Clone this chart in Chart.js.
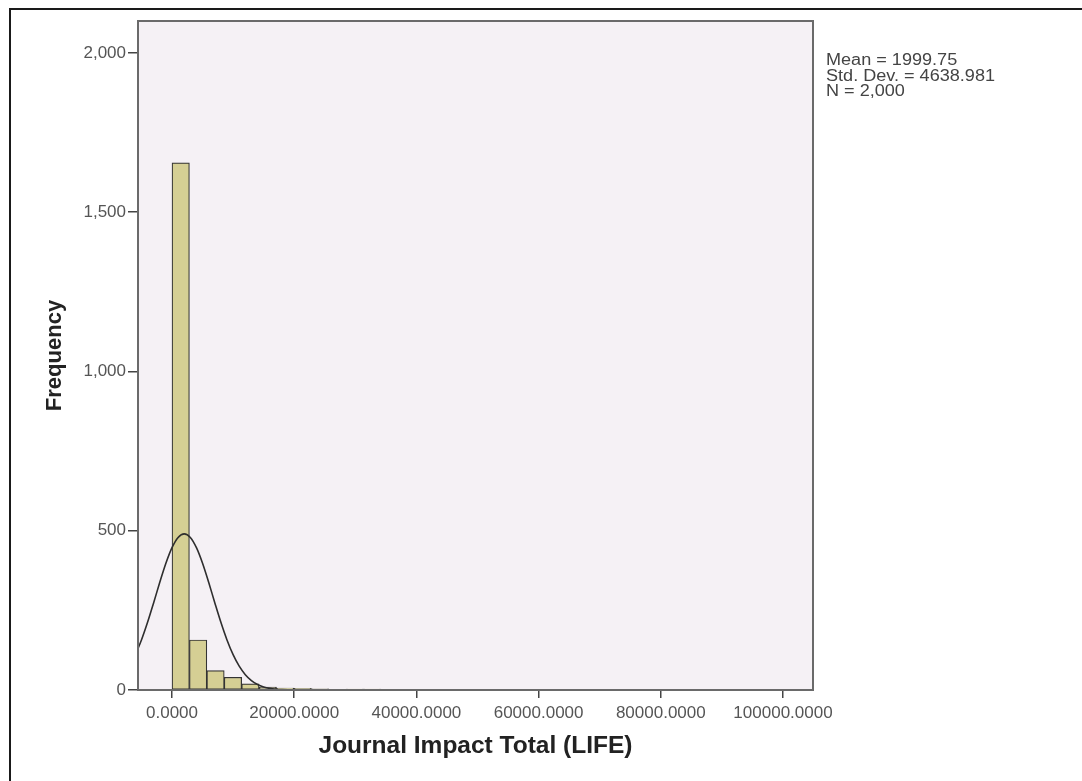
<!DOCTYPE html>
<html>
<head>
<meta charset="utf-8">
<script src="https://cdn.jsdelivr.net/npm/chart.js@4/dist/chart.umd.min.js"></script>
<style>
  html, body { margin: 0; padding: 0; background: #fff; }
  #wrap { width: 1082px; height: 781px; }
</style>
</head>
<body>
<div id="wrap"><canvas id="histChart" width="1082" height="781"></canvas></div>
<script>
// Histogram bins (width in LIFE units) and frequencies
const binWidth = 2850;
const binCounts = [1655, 157, 61, 40, 19, 9, 6, 5, 4, 0, 3, 3, 0, 0, 0, 0, 0,
                   0, 0, 0, 0, 0, 0, 0, 0, 0, 0, 0, 0, 0, 0, 0, 2];

// Normal curve overlay
const curveX = [-6000, -5000, -4000, -3000, -2000, -1000, 0, 1000, 2000, 3000, 4000,
                5000, 6000, 7000, 8000, 9000, 10000, 11000, 12000, 13000, 14000,
                15000, 16000, 17000, 18000, 19000, 20000, 22000, 105000];
const curveY = [110.8, 157.0, 212.4, 274.2, 338.0, 397.7, 446.7, 478.9, 490.2, 478.9, 446.7,
                397.7, 338.0, 274.2, 212.4, 157.0, 110.8, 74.7, 48.0, 29.5, 17.3,
                9.7, 5.2, 2.6, 1.3, 0.6, 0.3, 0.0, 0.0];

// Axis ticks
const xTickValues = [0, 20000, 40000, 60000, 80000, 100000];
const yTickValues = [0, 500, 1000, 1500, 2000];

const statsLines = ['Mean = 1999.75', 'Std. Dev. = 4638.981', 'N = 2,000'];

const barPoints = binCounts.map((c, i) => ({ x: (i + 0.5) * binWidth, y: c }));
const curvePoints = curveX.map((x, i) => ({ x: x, y: curveY[i] }));

// Plot background, frames and the stats box
const spssFrame = {
    id: 'spssFrame',
    beforeDraw(chart) {
        const { ctx, chartArea: a } = chart;
        ctx.save();
        ctx.fillStyle = '#ffffff';
        ctx.fillRect(0, 0, chart.width, chart.height);
        ctx.fillStyle = '#f5f1f5';
        ctx.fillRect(a.left, a.top, a.right - a.left, a.bottom - a.top);
        ctx.restore();
    },
    afterDatasetsDraw(chart) {
        const { ctx, chartArea: a } = chart;
        ctx.save();
        // plot frame
        ctx.strokeStyle = '#6a6a6a';
        ctx.lineWidth = 2;
        ctx.strokeRect(a.left, a.top, a.right - a.left, a.bottom - a.top);
        // outer frame (left and top edges visible)
        ctx.strokeStyle = '#1a1a1a';
        ctx.lineWidth = 2;
        ctx.beginPath();
        ctx.moveTo(10, chart.height + 2);
        ctx.lineTo(10, 9);
        ctx.lineTo(chart.width + 2, 9);
        ctx.stroke();
        // stats text
        ctx.fillStyle = '#444';
        ctx.font = '16px "Liberation Sans", Arial, sans-serif';
        ctx.textBaseline = 'top';
        statsLines.forEach((line, i) => {
            ctx.save();
            ctx.translate(826, 53 + i * 15.5);
            ctx.scale(1.13, 1);
            ctx.fillText(line, 0, 0);
            ctx.restore();
        });
        ctx.restore();
    }
};

const ctx = document.getElementById('histChart').getContext('2d');
new Chart(ctx, {
    data: {
        datasets: [
            {
                type: 'line',
                data: curvePoints,
                borderColor: '#2e2e2e',
                borderWidth: 1.6,
                pointRadius: 0,
                fill: false,
                cubicInterpolationMode: 'monotone',
                order: 0
            },
            {
                type: 'bar',
                data: barPoints,
                backgroundColor: '#d5cf94',
                borderColor: '#333333',
                borderWidth: 1.2,
                borderSkipped: false,
                barPercentage: 1.0,
                categoryPercentage: 1.0,
                order: 1
            }
        ]
    },
    options: {
        responsive: false,
        animation: false,
        layout: { padding: { top: 21, right: 269, bottom: 0, left: 0 } },
        plugins: {
            legend: { display: false },
            tooltip: { enabled: false }
        },
        scales: {
            x: {
                type: 'linear',
                offset: false,
                min: -5565,
                max: 104910,
                afterBuildTicks: scale => { scale.ticks = xTickValues.map(v => ({ value: v })); },
                afterFit: scale => { scale.height = 91; },
                grid: { offset: false, drawOnChartArea: false, drawTicks: true, tickLength: 8, color: '#444', lineWidth: 1.5 },
                border: { display: false },
                ticks: {
                    autoSkip: false,
                    maxRotation: 0,
                    padding: 5,
                    color: '#555',
                    font: { family: '"Liberation Sans", Arial, sans-serif', size: 17 },
                    callback: v => Number(v).toFixed(4)
                },
                title: {
                    display: true,
                    text: 'Journal Impact Total (LIFE)',
                    color: '#222',
                    font: { family: '"Liberation Sans", Arial, sans-serif', size: 24.5, weight: 'bold' },
                    padding: { top: 0, bottom: 20 }
                }
            },
            y: {
                type: 'linear',
                min: 0,
                max: 2100,
                afterBuildTicks: scale => { scale.ticks = yTickValues.map(v => ({ value: v })); },
                afterFit: scale => { scale.width = 138; },
                grid: { drawOnChartArea: false, drawTicks: true, tickLength: 10, color: '#444', lineWidth: 1.5 },
                border: { display: false },
                ticks: {
                    padding: 2,
                    color: '#555',
                    font: { family: '"Liberation Sans", Arial, sans-serif', size: 17 },
                    callback: v => Number(v).toLocaleString('en-US')
                },
                title: {
                    display: true,
                    text: 'Frequency',
                    color: '#222',
                    font: { family: '"Liberation Sans", Arial, sans-serif', size: 22, weight: 'bold' },
                    padding: { top: 42, bottom: 0 }
                }
            }
        }
    },
    plugins: [spssFrame]
});
</script>
</body>
</html>
